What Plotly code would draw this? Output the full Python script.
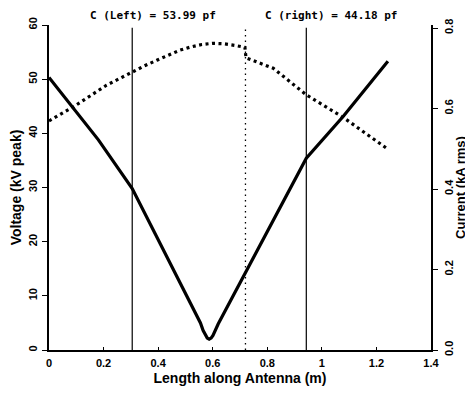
import plotly.graph_objects as go

# Voltage (kV peak) along antenna
x_volt = [0.0, 0.181, 0.305, 0.555, 0.565, 0.573, 0.580, 0.587, 0.594, 0.601, 0.609, 0.62, 0.943, 1.078, 1.242]
voltage = [50.3, 38.8, 29.8, 5.0, 3.6, 2.7, 2.2, 2.0, 2.2, 2.7, 3.5, 4.8, 35.4, 43.1, 53.3]

# Current (kA rms) along antenna
x_curr = [0.0, 0.089, 0.211, 0.305, 0.35, 0.395, 0.44, 0.48, 0.52, 0.56, 0.60, 0.64, 0.68, 0.718, 0.722, 0.767, 0.822, 0.943, 1.078, 1.242]
current = [0.569, 0.604, 0.658, 0.691, 0.706, 0.720, 0.734, 0.745, 0.753, 0.759, 0.762, 0.761, 0.757, 0.752, 0.726, 0.714, 0.700, 0.634, 0.578, 0.499]

cap_left_x = 0.305
cap_right_x = 0.943
feed_x = 0.72
labels = ["C (Left) = 53.99 pf", "C (right) = 44.18 pf"]
label_x = [0.38, 1.035]

x_ticks = [0, 0.2, 0.4, 0.6, 0.8, 1, 1.2, 1.4]
x_ticktext = ["0", "0.2", "0.4", "0.6", "0.8", "1", "1.2", "1.4"]
y_ticks = [0, 10, 20, 30, 40, 50, 60]
y2_ticks = [0.0, 0.2, 0.4, 0.6, 0.8]
y2_ticktext = ["0.0", "0.2", "0.4", "0.6", "0.8"]

FONT = "Liberation Sans"
fig = go.Figure()
fig.add_trace(go.Scatter(x=x_volt, y=voltage, mode="lines",
                         line=dict(color="black", width=3.2), yaxis="y", showlegend=False))
fig.add_trace(go.Scatter(x=x_curr, y=current, mode="lines",
                         line=dict(color="black", width=3.2, dash="3px,3.5px"), yaxis="y2", showlegend=False))

for xv in [cap_left_x, cap_right_x]:
    fig.add_shape(type="line", x0=xv, x1=xv, y0=0, y1=59.5, xref="x", yref="y",
                  line=dict(color="black", width=1.2))
fig.add_shape(type="line", x0=feed_x, x1=feed_x, y0=0, y1=59.5, xref="x", yref="y",
              line=dict(color="black", width=1.3, dash="1.5px,4px"))

for t, xv in zip(labels, label_x):
    fig.add_annotation(text=t, x=xv, xref="x", y=1, yref="paper", yanchor="bottom",
                       yshift=1, showarrow=False,
                       font=dict(family="DejaVu Sans Mono", size=11, color="black", weight="bold"))

tickfont = dict(family=FONT, size=11, color="black", weight="bold")
titlefont = dict(family=FONT, size=14, color="black", weight="bold")

# right axis title as rotated annotation
fig.add_annotation(text="Current (kA rms)", x=1.077, xref="paper", y=0.5, yref="paper",
                   xanchor="center", yanchor="middle", textangle=-90, showarrow=False,
                   font=dict(family=FONT, size=13, color="black", weight="bold"))

# page body has an 8px margin, so the figure is sized to fit inside the window
fig.update_layout(
    width=465, height=386,
    margin=dict(l=41, r=42, t=17, b=44),
    paper_bgcolor="white", plot_bgcolor="white",
    xaxis=dict(range=[0, 1.4], tickvals=x_ticks, ticktext=x_ticktext, showgrid=False, zeroline=False,
               showline=True, linecolor="black", linewidth=1.5, ticks="inside", ticklen=3,
               tickcolor="black", tickfont=tickfont, automargin=False, ticklabelstandoff=2,
               title=dict(text="Length along Antenna (m)", font=titlefont, standoff=5)),
    yaxis=dict(range=[0, 60], tickvals=y_ticks, showgrid=False, zeroline=False,
               showline=True, linecolor="black", linewidth=1.5, ticks="outside", ticklen=5,
               tickcolor="black", tickfont=tickfont, tickangle=-90, automargin=False,
               ticklabelstandoff=1,
               title=dict(text="Voltage (kV peak)", font=titlefont, standoff=7)),
    yaxis2=dict(range=[0, 0.8075], tickvals=y2_ticks, ticktext=y2_ticktext, overlaying="y", side="right",
                showgrid=False, zeroline=False, showline=True, linecolor="black", linewidth=1.5,
                ticks="outside", ticklen=5, tickcolor="black", tickfont=tickfont, tickangle=-90,
                automargin=False, ticklabelstandoff=2),
)

fig.write_html("out.html")
